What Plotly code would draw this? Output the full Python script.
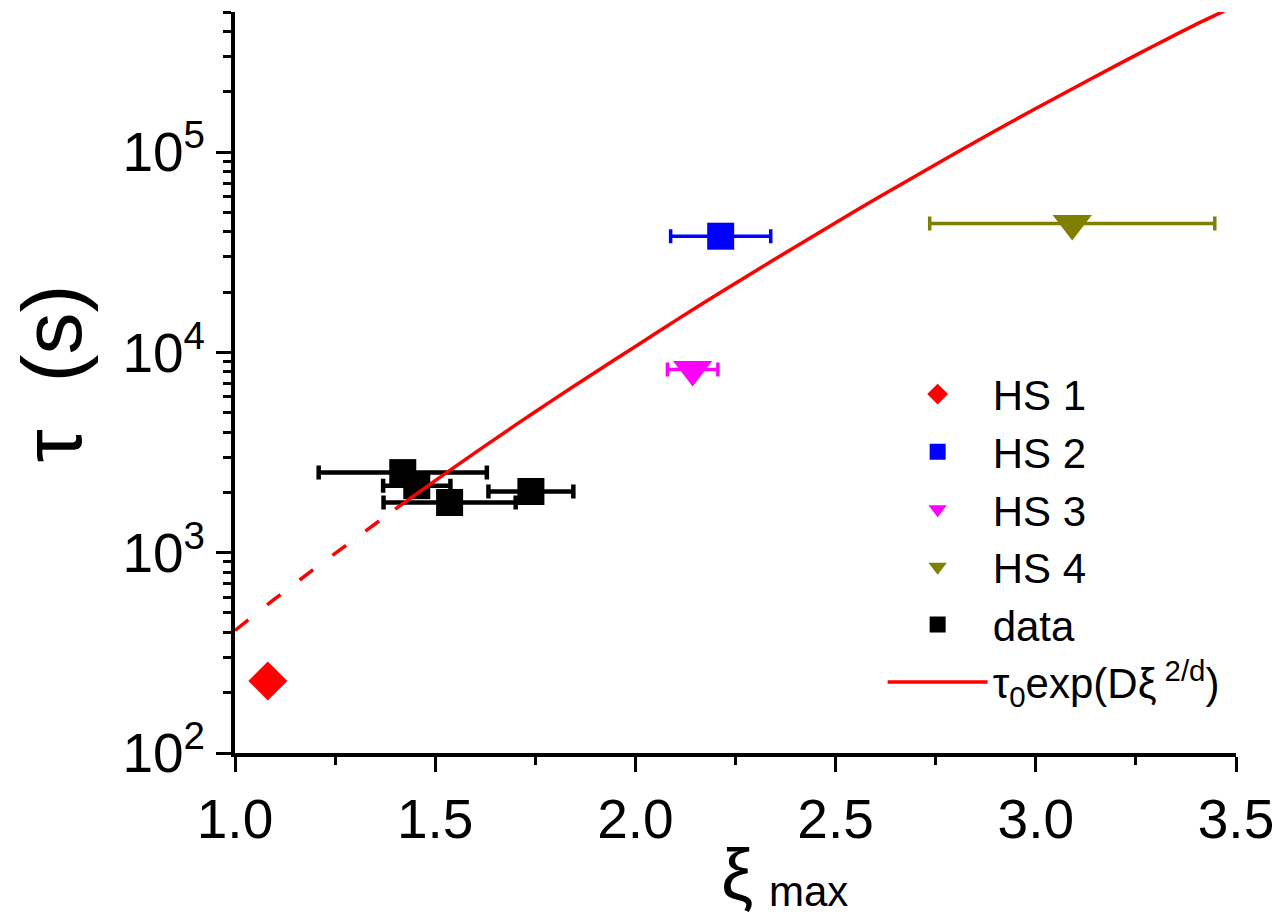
import plotly.graph_objects as go

# ---------------- data ----------------
hs1_x = [1.082]; hs1_y = [229]
hs2_x = [2.213]; hs2_y = [38000]; hs2_xerr = [0.125]
hs3_x = [2.143]; hs3_y = [8200]; hs3_xerr = [0.063]
hs4_x = [3.091]; hs4_y = [44000]; hs4_xerr = [0.356]
data_x = [1.419, 1.454, 1.536, 1.739]
data_y = [2510, 2160, 1780, 2020]
data_xerr = [0.210, 0.084, 0.165, 0.106]

# fitted curve tau0*exp(D xi^(2/d))
fit_dash_x = [1.0, 1.1, 1.2, 1.3, 1.4]
fit_dash_y = [409, 589, 836, 1180, 1650]
fit_x = [1.4, 1.5, 1.6, 1.7, 1.8, 1.9, 2.0, 2.1, 2.2, 2.3, 2.4, 2.5, 2.6,
         2.7, 2.8, 2.9, 3.0, 3.1, 3.2, 3.3, 3.4, 3.47]
fit_y = [1650, 2290, 3160, 4330, 5890, 7960, 10700, 14400, 19200, 25500, 33700, 44400, 58200,
         76000, 98900, 128000, 165000, 211000, 270000, 343000, 434000, 505000]

y_tickvals = [1e2, 1e3, 1e4, 1e5]
y_ticktext = ["10<sup>2</sup>", "10<sup>3</sup>", "10<sup>4</sup>", "10<sup>5</sup>"]
y_minor = [m * 10 ** e for e in range(2, 6) for m in range(2, 10) if m * 10 ** e <= 5e5]

FONT = "Liberation Sans, Arial, sans-serif"

fig = go.Figure()

fig.add_trace(go.Scatter(
    x=hs1_x, y=hs1_y, mode="markers", name="HS 1",
    marker=dict(symbol="diamond", size=30, color="#FF0000", line=dict(width=0)),
))
fig.add_trace(go.Scatter(
    x=hs2_x, y=hs2_y, mode="markers", name="HS 2",
    error_x=dict(type="data", array=hs2_xerr, color="#0000FF", thickness=3.5, width=7),
    marker=dict(symbol="square", size=27, color="#0000FF", line=dict(width=0)),
))
fig.add_trace(go.Scatter(
    x=hs3_x, y=hs3_y, mode="markers", name="HS 3",
    error_x=dict(type="data", array=hs3_xerr, color="#FF00FF", thickness=3.5, width=7),
    marker=dict(symbol="triangle-down", size=34, color="#FF00FF", line=dict(width=0)),
))
fig.add_trace(go.Scatter(
    x=hs4_x, y=hs4_y, mode="markers", name="HS 4",
    error_x=dict(type="data", array=hs4_xerr, color="#808000", thickness=3.5, width=7),
    marker=dict(symbol="triangle-down", size=34, color="#808000", line=dict(width=0)),
))
fig.add_trace(go.Scatter(
    x=data_x, y=data_y, mode="markers", name="data",
    error_x=dict(type="data", array=data_xerr, color="#000000", thickness=4.5, width=7),
    marker=dict(symbol="square", size=27, color="#000000", line=dict(width=0)),
))
fig.add_trace(go.Scatter(
    x=fit_dash_x, y=fit_dash_y, mode="lines", showlegend=False,
    line=dict(color="#FF0000", width=3.5, dash="17px,24px"),
))
fig.add_trace(go.Scatter(
    x=fit_x, y=fit_y, mode="lines", name="τ<sub>0</sub>exp(Dξ<sup> 2/d</sup>)",
    line=dict(color="#FF0000", width=3.5, shape="spline", smoothing=0.6),
))

axis_common = dict(
    showline=True, linecolor="black", linewidth=4, mirror=False,
    showgrid=False, zeroline=False,
    ticks="outside", ticklen=15, tickwidth=3, tickcolor="black",
    tickfont=dict(family=FONT, size=55, color="black"),
)

fig.update_xaxes(
    range=[1.0, 3.5], tickmode="linear", tick0=1.0, dtick=0.5, tickformat=".1f",
    minor=dict(ticks="outside", ticklen=8, tickwidth=3, tickcolor="black", dtick=0.25, tick0=1.0),
    **axis_common,
)
fig.update_yaxes(
    type="log", range=[2, 5.69897],
    tickmode="array", tickvals=y_tickvals, ticktext=y_ticktext,
    minor=dict(ticks="outside", ticklen=8, tickwidth=3, tickcolor="black", tickvals=y_minor),
    **axis_common,
)

# axis titles placed as annotations to match the reference positions
fig.add_annotation(
    xref="paper", yref="paper", x=0.501, y=-0.108, xanchor="center", yanchor="top",
    text="ξ", showarrow=False,
    font=dict(family=FONT, size=72, color="black"),
)
fig.add_annotation(
    xref="paper", yref="paper", x=0.531, y=-0.152, xanchor="left", yanchor="top",
    text="max", showarrow=False,
    font=dict(family=FONT, size=42, color="black"),
)
fig.add_annotation(
    xref="paper", yref="paper", x=-0.183, y=0.512, xanchor="center", yanchor="middle",
    text="τ&nbsp; (s)", textangle=-90, showarrow=False,
    font=dict(family=FONT, size=84, color="black"),
)

fig.update_layout(
    width=1286, height=919,
    margin=dict(l=235, r=43, t=12, b=166),
    paper_bgcolor="white", plot_bgcolor="white",
    font=dict(family=FONT, color="black"),
    legend=dict(
        x=0.647, y=0.530, xanchor="left", yanchor="top",
        bgcolor="rgba(0,0,0,0)", borderwidth=0,
        font=dict(family=FONT, size=42, color="black"),
        itemwidth=100, itemsizing="trace", tracegroupgap=0,
    ),
)

fig.write_html("out.html")
